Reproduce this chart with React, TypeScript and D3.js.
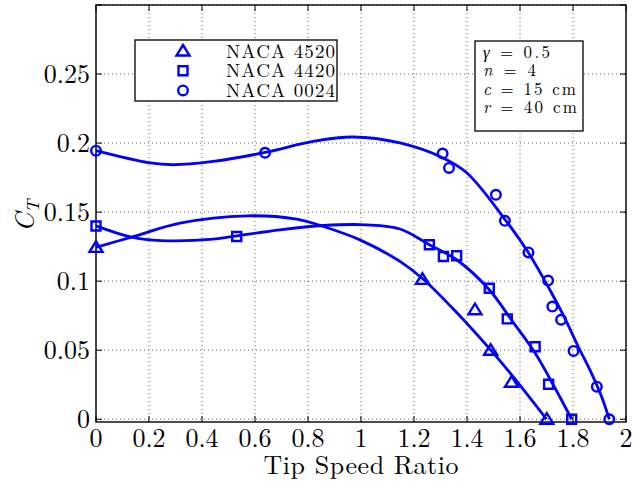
import React, {Component} from 'react';
import * as d3 from "d3";

// markers (measured points)
const tsr4520 = [0, 1.232, 1.43, 1.489, 1.568, 1.701];
const ct4520 = [0.1245, 0.1013, 0.0793, 0.050, 0.0268, 0];
const tsr4420 = [0, 0.531, 1.258, 1.311, 1.361, 1.484, 1.552, 1.657, 1.708, 1.795];
const ct4420 = [0.140, 0.1323, 0.1264, 0.1179, 0.1184, 0.0949, 0.0727, 0.0525, 0.0253, 0];
const tsr0024 = [0, 0.638, 1.308, 1.332, 1.509, 1.543, 1.632, 1.706, 1.722, 1.755, 1.802, 1.89, 1.937];
const ct0024 = [0.1945, 0.193, 0.1924, 0.182, 0.1625, 0.1437, 0.1208, 0.1004, 0.0816, 0.072, 0.0495, 0.0236, 0];

// fitted curves
const fitX4520 = [0, 0.141, 0.317, 0.569, 0.757, 0.858, 0.996, 1.147, 1.234, 1.362, 1.489, 1.574, 1.7];
const fitY4520 = [0.1245, 0.1323, 0.142, 0.1473, 0.1449, 0.1396, 0.1299, 0.1143, 0.1016, 0.0771, 0.0502, 0.0308, 0];
const fitX4420 = [0, 0.133, 0.246, 0.443, 0.531, 0.694, 0.858, 1.021, 1.147, 1.258, 1.361, 1.484, 1.57, 1.657, 1.732, 1.795];
const fitY4420 = [0.140, 0.1319, 0.1294, 0.1304, 0.1328, 0.1372, 0.1403, 0.1408, 0.1378, 0.1264, 0.1155, 0.0938, 0.0713, 0.048, 0.0226, 0];
const fitX0024 = [0, 0.204, 0.291, 0.442, 0.638, 0.819, 0.97, 1.147, 1.308, 1.399, 1.543, 1.632, 1.713, 1.763, 1.82, 1.87, 1.908, 1.937];
const fitY0024 = [0.1945, 0.1856, 0.1843, 0.1867, 0.1932, 0.2012, 0.2044, 0.2001, 0.1894, 0.1785, 0.1448, 0.1205, 0.0936, 0.0755, 0.0525, 0.0332, 0.0162, 0];

const xTicks = [0, 0.2, 0.4, 0.6, 0.8, 1, 1.2, 1.4, 1.6, 1.8, 2];
const yTicks = [0, 0.05, 0.1, 0.15, 0.2, 0.25, 0.3];
const yLabelTicks = [0, 0.05, 0.1, 0.15, 0.2, 0.25];
const legendNames = ["NACA 4520", "NACA 4420", "NACA 0024"];
const noteLines = [["γ", " = 0.5"], ["n", " = 4"], ["c", " = 15 cm"], ["r", " = 40 cm"]];

const FONT = "'Latin Modern Roman','CMU Serif','Liberation Serif','Times New Roman',serif";
const BLUE = "#0000ff";

export default class App extends Component {

    constructor(props){
        super(props)
        this.myRef = React.createRef()
    }

    componentDidMount() {
        const width = 633, height = 485
        const margin = ({top: 5, right: 7, bottom: 63, left: 96})

        const root = d3.select(this.myRef.current)
        root.selectAll("*").remove()

        const svg = root.append("svg")
            .attr("width", width)
            .attr("height", height)
            .style("display", "block")
            .style("font-family", FONT)

        const x = d3.scaleLinear()
            .domain([0, 2])
            .range([margin.left, width - margin.right])
        const y = d3.scaleLinear()
            .domain([-0.002, 0.3])
            .range([height - margin.bottom, margin.top])

        const x0 = margin.left, x1 = width - margin.right
        const y0 = height - margin.bottom, y1 = margin.top
        const fmt = d => String(+d.toFixed(2))

        // dotted grid
        svg.append("g").selectAll("line").data(xTicks).join("line")
            .attr("x1", d => x(d)).attr("x2", d => x(d))
            .attr("y1", y1).attr("y2", y0)
            .attr("stroke", "#444").attr("stroke-width", 0.8).attr("stroke-dasharray", "1,3")
        svg.append("g").selectAll("line").data(yTicks).join("line")
            .attr("x1", x0).attr("x2", x1)
            .attr("y1", d => y(d)).attr("y2", d => y(d))
            .attr("stroke", "#444").attr("stroke-width", 0.8).attr("stroke-dasharray", "1,3")

        // inward ticks on all four sides
        const tk = svg.append("g").attr("stroke", "black").attr("stroke-width", 1)
        xTicks.forEach(d => {
            tk.append("line").attr("x1", x(d)).attr("x2", x(d)).attr("y1", y0).attr("y2", y0 - 6)
            tk.append("line").attr("x1", x(d)).attr("x2", x(d)).attr("y1", y1).attr("y2", y1 + 6)
        })
        yTicks.forEach(d => {
            tk.append("line").attr("x1", x0).attr("x2", x0 + 6).attr("y1", y(d)).attr("y2", y(d))
            tk.append("line").attr("x1", x1).attr("x2", x1 - 6).attr("y1", y(d)).attr("y2", y(d))
        })

        svg.append("rect")
            .attr("x", x0).attr("y", y1).attr("width", x1 - x0).attr("height", y0 - y1)
            .attr("fill", "none").attr("stroke", "black").attr("stroke-width", 1.4)

        // tick labels
        svg.append("g").selectAll("text").data(xTicks).join("text")
            .attr("x", d => x(d)).attr("y", 447)
            .attr("text-anchor", "middle").attr("font-size", 26)
            .text(fmt)
        svg.append("g").selectAll("text").data(yLabelTicks).join("text")
            .attr("x", 90).attr("y", d => y(d) + 8.5)
            .attr("text-anchor", "end").attr("font-size", 26)
            .text(fmt)

        // axis titles
        svg.append("text")
            .attr("x", (x0 + x1) / 2).attr("y", 474)
            .attr("text-anchor", "middle").attr("font-size", 26)
            .attr("textLength", 195).attr("lengthAdjust", "spacing")
            .text("Tip Speed Ratio")
        const yl = svg.append("text")
            .attr("transform", "translate(34,216) rotate(-90)")
            .attr("text-anchor", "middle").attr("font-size", 27)
        yl.append("tspan").attr("font-style", "italic").text("C")
        yl.append("tspan").attr("font-style", "italic").attr("font-size", 18).attr("dy", 5).text("T")

        // fitted curves
        const line = d3.line().curve(d3.curveCatmullRom.alpha(0.5))
            .x(d => x(d[0])).y(d => y(d[1]))
        const fits = [[fitX4520, fitY4520], [fitX4420, fitY4420], [fitX0024, fitY0024]]
        fits.forEach(f => {
            svg.append("path")
                .datum(d3.zip(f[0], f[1]))
                .attr("fill", "none").attr("stroke", BLUE).attr("stroke-width", 2.8)
                .attr("d", line)
        })

        // markers
        const tri = "M0,-6L6.5,4.5L-6.5,4.5Z"
        const sq = "M-4.5,-4.5H4.5V4.5H-4.5Z"
        const circ = d3.arc()({innerRadius: 0, outerRadius: 4.8, startAngle: 0, endAngle: 2 * Math.PI})
        const shapes = [tri, sq, circ]
        const series = [[tsr4520, ct4520], [tsr4420, ct4420], [tsr0024, ct0024]]
        series.forEach((s, i) => {
            svg.append("g").selectAll("path").data(d3.zip(s[0], s[1])).join("path")
                .attr("transform", d => `translate(${x(d[0])},${y(d[1])})`)
                .attr("d", shapes[i])
                .attr("fill", "none").attr("stroke", BLUE).attr("stroke-width", 2.4)
        })

        // legend
        svg.append("rect")
            .attr("x", 135).attr("y", 40).attr("width", 202).attr("height", 61)
            .attr("fill", "white").attr("stroke", "black").attr("stroke-width", 1.3)
        legendNames.forEach((name, i) => {
            const cy = 51 + i * 19.7
            svg.append("path")
                .attr("transform", `translate(183,${cy})`)
                .attr("d", shapes[i])
                .attr("fill", "none").attr("stroke", BLUE).attr("stroke-width", 2.4)
            svg.append("text")
                .attr("x", 226).attr("y", cy + 6.5)
                .attr("font-size", 19)
                .attr("textLength", 109).attr("lengthAdjust", "spacing")
                .text(name)
        })

        // parameter box
        svg.append("rect")
            .attr("x", 475).attr("y", 41).attr("width", 108).attr("height", 90)
            .attr("fill", "white").attr("stroke", "black").attr("stroke-width", 1.3)
        const noteLen = [67, 53, 93, 94]
        noteLines.forEach((l, i) => {
            const t = svg.append("text")
                .attr("x", 483).attr("y", 58 + i * 18.3)
                .attr("font-size", 17)
                .attr("textLength", noteLen[i]).attr("lengthAdjust", "spacing")
                .style("white-space", "pre")
            t.append("tspan").attr("font-style", "italic").text(l[0])
            t.append("tspan").text(l[1])
        })
    }

    render() {
        return (
            <div ref={this.myRef} style={{position: "absolute", left: 0, top: 0}}></div>
        )
    }
}
